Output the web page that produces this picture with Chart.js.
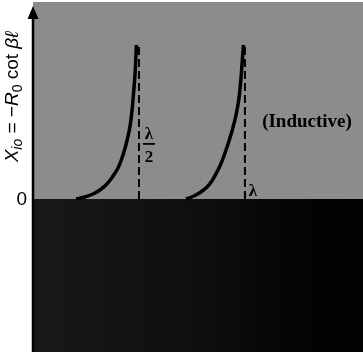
<!DOCTYPE html>
<html>
<head>
<meta charset="utf-8">
<title>Short-circuited line reactance</title>
<script src="https://cdn.jsdelivr.net/npm/chart.js@4.4.1/dist/chart.umd.min.js"></script>
<style>
  html, body { margin: 0; padding: 0; background: #ffffff; }
  #wrap { width: 363px; height: 355px; }
</style>
</head>
<body>
<div id="wrap"><canvas id="c" width="363" height="355"></canvas></div>
<script>
// Line length ℓ in wavelengths, reactance in plot units (upper, inductive branches)
const branch1Len = [0.203, 0.245, 0.283, 0.316, 0.344, 0.368, 0.387, 0.401, 0.415, 0.429, 0.443, 0.458, 0.467, 0.476, 0.483, 0.488];
const branch1X   = [0.0,   0.2,   0.5,   0.9,   1.4,   2.0,   2.6,   3.1,   3.8,   4.7,   5.8,   7.3,   8.8,   11.0,  13.0,  15.4];
const branch2Len = [0.722, 0.759, 0.792, 0.821, 0.844, 0.863, 0.882, 0.901, 0.920, 0.939, 0.958, 0.972, 0.981, 0.988, 0.993];
const branch2X   = [0.0,   0.3,   0.7,   1.2,   1.8,   2.5,   3.3,   4.3,   5.5,   6.8,   8.4,   10.1,  12.0,  14.0,  15.4];
// Asymptotes at ℓ = λ/2 and ℓ = λ
const asymptoteLen = [0.5, 1.0];
const asymptoteTop = 15.4;
const asymptoteLabels = ['λ/2', 'λ'];
const zeroTickLabel = '0';
const regionLabel = '(Inductive)';

const toPts = (xs, ys) => xs.map((x, i) => ({ x: x, y: ys[i] }));

const datasets = [
  { data: toPts(branch1Len, branch1X) },
  { data: toPts(branch2Len, branch2X) }
].map(d => Object.assign(d, {
  borderColor: '#000000', borderWidth: 3.5, pointRadius: 0,
  cubicInterpolationMode: 'monotone', fill: false
}));

asymptoteLen.forEach(a => datasets.push({
  data: [{ x: a, y: 0 }, { x: a, y: asymptoteTop }],
  borderColor: '#000000', borderWidth: 2, borderDash: [8, 4],
  pointRadius: 0, fill: false
}));

const paper = {
  id: 'paper',
  beforeDraw(chart) {
    const { ctx, chartArea: a, scales: { y } } = chart;
    const y0 = y.getPixelForValue(0);
    ctx.save();
    ctx.fillStyle = '#ffffff';
    ctx.fillRect(0, 0, chart.width, chart.height);
    ctx.fillStyle = '#8c8c8c';
    ctx.fillRect(a.left, a.top, a.right - a.left, y0 - a.top);
    const g = ctx.createLinearGradient(a.left, 0, a.right, 0);
    g.addColorStop(0, '#181818');
    g.addColorStop(0.5, '#0f0f0f');
    g.addColorStop(0.8, '#040404');
    g.addColorStop(1, '#020202');
    ctx.fillStyle = g;
    ctx.fillRect(a.left, y0, a.right - a.left, a.bottom - y0);
    ctx.restore();
  },
  afterDraw(chart) {
    const { ctx, chartArea: a, scales: { x, y } } = chart;
    const y0 = y.getPixelForValue(0);
    ctx.save();
    // vertical axis with arrow head
    ctx.strokeStyle = '#000';
    ctx.lineWidth = 2.5;
    ctx.beginPath();
    ctx.moveTo(a.left, a.bottom);
    ctx.lineTo(a.left, a.top + 12);
    ctx.stroke();
    ctx.fillStyle = '#000';
    ctx.beginPath();
    ctx.moveTo(a.left, a.top + 4);
    ctx.lineTo(a.left - 5.5, a.top + 17);
    ctx.lineTo(a.left + 5.5, a.top + 17);
    ctx.closePath();
    ctx.fill();

    // zero tick label
    ctx.font = '19px "Liberation Sans", Arial, sans-serif';
    ctx.textAlign = 'right';
    ctx.textBaseline = 'middle';
    ctx.fillText(zeroTickLabel, a.left - 6, y0 + 1);

    // axis title, rotated, with subscripts
    ctx.translate(13, 97);
    ctx.rotate(-Math.PI / 2);
    const big = '19px "Liberation Sans", Arial, sans-serif';
    const bigI = 'italic 19px "Liberation Sans", Arial, sans-serif';
    const sub = 'italic 14px "Liberation Sans", Arial, sans-serif';
    const subN = '14px "Liberation Sans", Arial, sans-serif';
    const runs = [
      [bigI, 'X', 0], [sub, 'io', 5], [big, ' = −', 0], [bigI, 'R', 0],
      [subN, '0', 5], [big, ' cot ', 0], [bigI, 'βℓ', 0]
    ];
    let total = 0;
    runs.forEach(r => { ctx.font = r[0]; total += ctx.measureText(r[1]).width; });
    let cx = -total / 2;
    ctx.textAlign = 'left';
    ctx.textBaseline = 'middle';
    runs.forEach(r => {
      ctx.font = r[0];
      ctx.fillText(r[1], cx, r[2]);
      cx += ctx.measureText(r[1]).width;
    });
    ctx.setTransform(1, 0, 0, 1, 0, 0);

    // asymptote labels
    const serif = '"Liberation Serif", "Times New Roman", serif';
    const xh = x.getPixelForValue(asymptoteLen[0]);
    const [num, den] = asymptoteLabels[0].split('/');
    ctx.textAlign = 'center';
    ctx.textBaseline = 'alphabetic';
    ctx.font = 'bold 17px ' + serif;
    ctx.fillText(num, xh + 10, 139);
    ctx.fillRect(xh + 4, 143, 12, 1.8);
    ctx.fillText(den, xh + 10, 162);
    const xl = x.getPixelForValue(asymptoteLen[1]);
    ctx.font = 'bold 17px ' + serif;
    ctx.fillText(asymptoteLabels[1], xl + 8, 196);

    // region label
    ctx.font = 'bold 19px ' + serif;
    ctx.textAlign = 'center';
    ctx.fillText(regionLabel, 307, 127);
    ctx.restore();
  }
};

new Chart(document.getElementById('c'), {
  type: 'line',
  data: { datasets: datasets },
  options: {
    responsive: false,
    animation: false,
    layout: { padding: { left: 33, top: 2, right: 0, bottom: 3 } },
    plugins: { legend: { display: false }, tooltip: { enabled: false } },
    scales: {
      x: { type: 'linear', min: 0, max: 1.557, display: false },
      y: { type: 'linear', min: -15.3, max: 19.7, display: false }
    }
  },
  plugins: [paper]
});
</script>
</body>
</html>
